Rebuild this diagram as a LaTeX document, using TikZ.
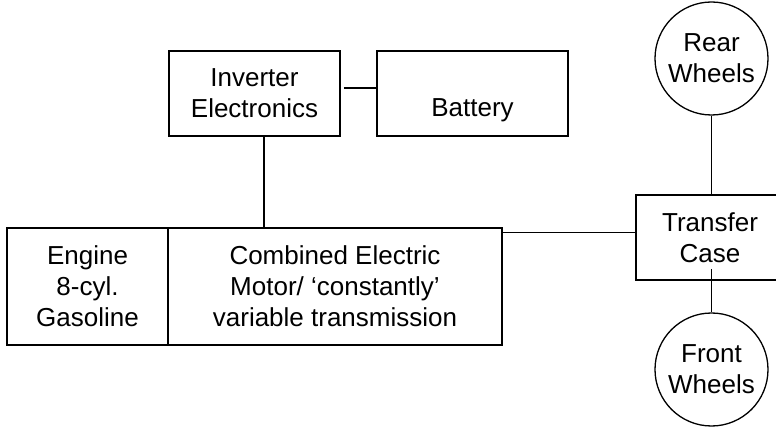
\documentclass[tikz,border=0pt]{standalone}
\usepackage{fontspec}
\setmainfont{Liberation Sans}
\begin{document}
\begin{tikzpicture}[x=1pt,y=-1pt,
  txt/.style={font=\fontsize{26}{31}\selectfont, align=center, inner sep=0pt},
  blk/.style={txt, draw, line width=1.8pt},
  whl/.style={txt, draw, circle, line width=1.3pt, minimum size=113pt},
  conn/.style={line width=1.8pt}]
\useasboundingbox (0,0) rectangle (776,427);
\clip (0,0) rectangle (776,427);
\node[blk, minimum width=171pt, minimum height=85pt] (inv) at (254.5,93.5) {Inverter\\Electronics};
\node[blk, minimum width=191pt, minimum height=85pt] (bat) at (472.5,93.5) {};
\node[txt, anchor=base] (battxt) at (472.5,116.7) {Battery};
\node[blk, minimum width=161pt, minimum height=117pt] (eng) at (87.5,286.5) {Engine\\8-cyl.\\Gasoline};
\node[blk, minimum width=334pt, minimum height=117pt] (cem) at (335,286.5) {Combined Electric\\Motor/ `constantly'\\variable transmission};
\node[blk, minimum width=152pt, minimum height=85pt] (tc) at (712,237.5) {\hspace*{-4pt}Transfer\\\hspace*{-4pt}Case};
\node[whl] (rw) at (711.5,58.5) {Rear\\Wheels};
\node[whl] (fw) at (711.5,369.5) {Front\\Wheels};
\draw[conn] ([yshift=5.5pt,xshift=3pt]inv.east) -- ([yshift=5.5pt]bat.west);
\draw[conn] ([xshift=9.5pt]inv.south) -- ([xshift=9.5pt]inv.south |- cem.north);
\draw[conn] ([yshift=5pt]tc.west) -- ([yshift=5pt]tc.west -| cem.east);
\draw[conn] (rw.south) -- (rw.south |- tc.north);
\draw[conn] ([yshift=12pt]tc.south -| fw.north) -- (fw.north);
\end{tikzpicture}
\end{document}
